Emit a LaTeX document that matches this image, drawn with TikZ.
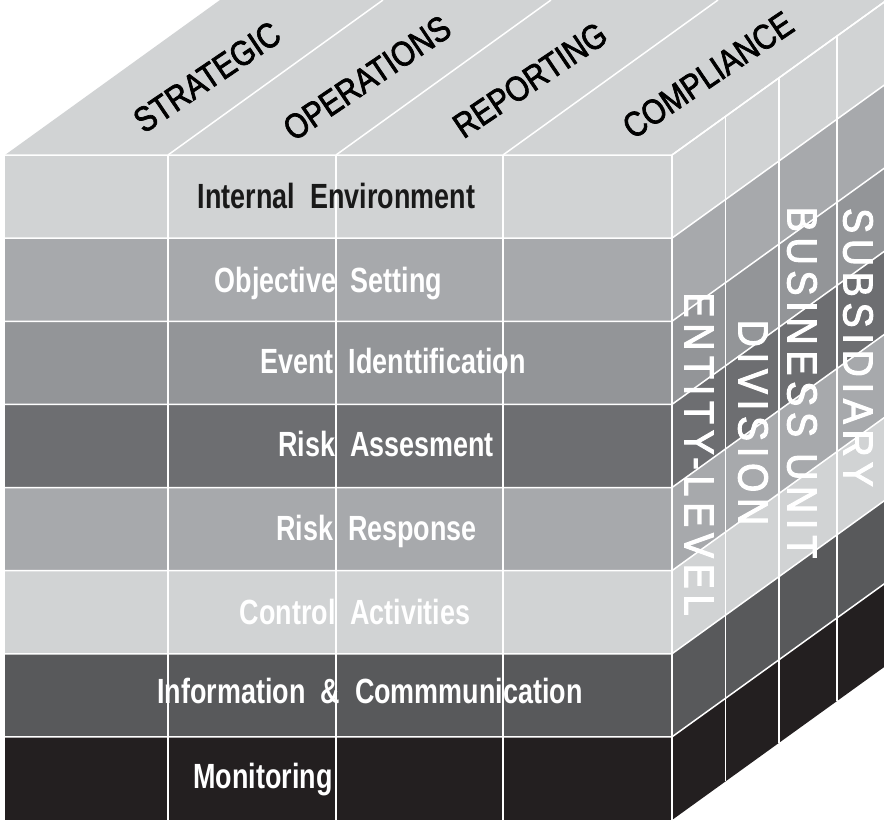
\documentclass[tikz,border=0pt]{standalone}
\usepackage{fontspec}
\setmainfont{Liberation Sans}
\newfontfamily\frontfont[FakeStretch=0.77]{Liberation Sans}
\newfontfamily\topfont[FakeStretch=0.85,FakeBold=2]{Liberation Sans}
\newfontfamily\sidefont[FakeStretch=0.89,LetterSpace=14,FakeBold=2.5]{Liberation Sans}
\definecolor{cA}{HTML}{D1D3D4}
\definecolor{cB}{HTML}{A7A9AC}
\definecolor{cC}{HTML}{939598}
\definecolor{cD}{HTML}{6D6E71}
\definecolor{cE}{HTML}{A7A9AC}
\definecolor{cF}{HTML}{D1D3D4}
\definecolor{cG}{HTML}{58595B}
\definecolor{cH}{HTML}{231F20}
\tikzset{
  gridline/.style={draw=white,line width=1.5pt},
  frontlbl/.style={anchor=base,inner sep=0pt,text=white,font=\frontfont\bfseries\fontsize{35}{40}\selectfont},
  toplbl/.style={anchor=center,inner sep=0pt,text=black,rotate=34,font=\topfont\fontsize{35}{40}\selectfont},
  sidelbl/.style={anchor=center,inner sep=0pt,text=white,rotate=-90,font=\sidefont\fontsize{42}{46}\selectfont}
}
\begin{document}
\begin{tikzpicture}[x=1pt,y=-1pt]
\useasboundingbox (0,0) rectangle (884,822);
\clip (0,0) rectangle (884,822);
% top face
\fill[cA] (5,155) -- (672,155) -- (887,0) -- (220,0) -- cycle;
% rows: front and side
\foreach \c [count=\i from 0] in {cA,cB,cC,cD,cE,cF,cG,cH} {
  \pgfmathsetmacro\ya{155+83.125*\i}
  \pgfmathsetmacro\yb{155+83.125*(\i+1)}
  \fill[\c] (5,\ya) rectangle (672,\yb);
  \fill[\c] (672,\ya) -- (887,{\ya-155}) -- (887,{\yb-155}) -- (672,\yb) -- cycle;
}
% front grid
\foreach \x in {168,336,503,672} \draw[gridline] (\x,155) -- (\x,820);
\foreach \i in {0,...,7} {
  \pgfmathsetmacro\ya{155+83.125*\i}
  \draw[gridline] (5,\ya) -- (672,\ya) -- (887,{\ya-155});
}
% side verticals
\foreach \x in {725.5,779,837} {
  \pgfmathsetmacro\dy{(\x-672)*0.7209302}
  \draw[gridline] (\x,{155-\dy}) -- (\x,{820-\dy});
}
% top diagonals
\foreach \x in {168,336,503,672} \draw[gridline] (\x,155) -- ({\x+215},0);
% top labels
\node[toplbl] (strat) at (207,77) {STRATEGIC};
\node[toplbl] (oper) at (367,78) {OPERATIONS};
\node[toplbl] (rep) at (530,80) {REPORTING};
\node[toplbl] (comp) at (708,75) {COMPLIANCE};
% front labels
\node[frontlbl,text=black!90] (ie) at (336.5,208) {Internal~~Environment};
\node[frontlbl] (os) at (328.5,292) {Objective~~Setting};
\node[frontlbl] (ei) at (393,373) {Event~~Identtification};
\node[frontlbl] (ra) at (386,456) {Risk~~Assesment};
\node[frontlbl] (rr) at (376.5,540) {Risk~~Response};
\node[frontlbl] (ca) at (355,624) {Control~~Activities};
\node[frontlbl] (ic) at (370,703) {Information~~\&~~Commmunication};
\node[frontlbl] (mo) at (263,788) {Monitoring};
% side labels
\node[sidelbl] (ent) at (699,454) {ENTITY-LEVEL};
\node[sidelbl] (div) at (753,422.5) {DIVISION};
\node[sidelbl] (bu) at (802,382.5) {BUSINESS UNIT};
\node[sidelbl] (sub) at (858,347.5) {SUBSIDIARY};
\end{tikzpicture}
\end{document}
